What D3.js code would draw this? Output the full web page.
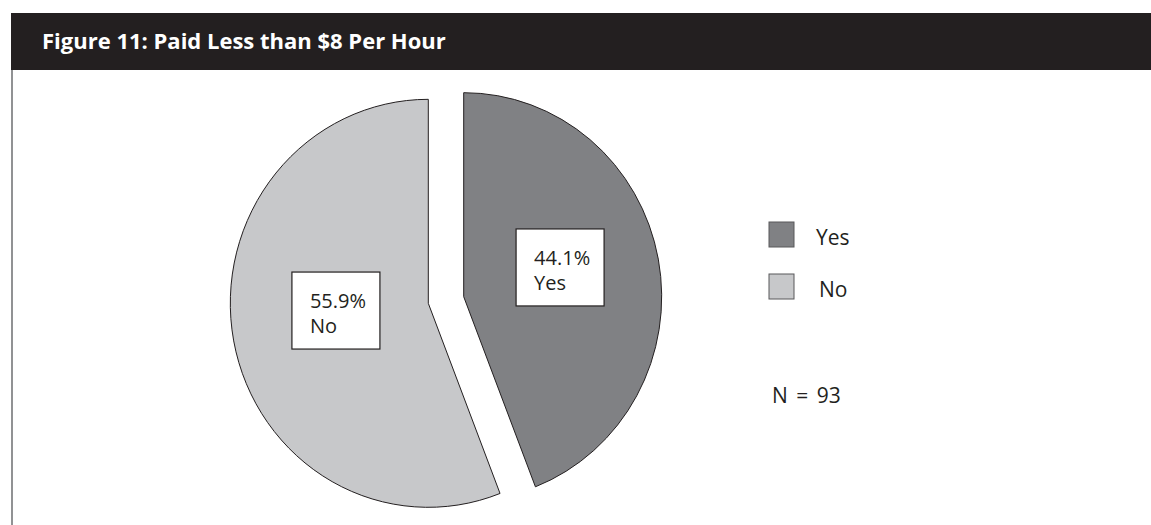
<!DOCTYPE html>
<html>
<head>
<meta charset="utf-8">
<script src="https://cdn.jsdelivr.net/npm/d3@7"></script>
<style>
  html, body { margin: 0; padding: 0; background: #fff; }
  svg { display: block; }
</style>
</head>
<body>
<svg id="chart" width="1151" height="525"></svg>
<script>
// Survey answers: share of workers paid less than $8 per hour
const categories = ["Yes", "No"];
const percents = [44.1, 55.9];
const title = "Figure 11: Paid Less than $8 Per Hour";
const sampleNote = "N = 93";

const W = 1151, H = 525;
const svg = d3.select("#chart");
const fontFamily = "'Open Sans', Lato, sans-serif";

const color = d3.scaleOrdinal()
  .domain(categories)
  .range(["#808184", "#c7c8ca"]);

// Frame: left rule and title bar
svg.append("line")
  .attr("x1", 12).attr("x2", 12)
  .attr("y1", 70).attr("y2", H)
  .attr("stroke", "#6d6e70").attr("stroke-width", 1.5);

svg.append("rect")
  .attr("x", 11).attr("y", 13)
  .attr("width", W - 11).attr("height", 57)
  .attr("fill", "#231f20");

svg.append("text")
  .attr("x", 42).attr("y", 49)
  .attr("fill", "#ffffff")
  .attr("font-family", fontFamily)
  .attr("font-weight", "bold")
  .attr("font-size", 22)
  .text(title);

// Pie
const cx = 446, cy = 300;
const rx = 198, ry = 204;
const explode = 18;

const pie = d3.pie().sort(null).value(d => d.value);
const arcs = pie(categories.map((c, i) => ({ key: c, value: percents[i] })));

const R = 200;
const arc = d3.arc().innerRadius(0).outerRadius(R);
const labelArc = d3.arc().innerRadius(0).outerRadius(R * 0.97);

const slices = svg.append("g")
  .attr("transform", `translate(${cx},${cy})`)
  .selectAll("g.slice")
  .data(arcs)
  .join("g")
  .attr("class", "slice")
  .attr("transform", d => {
    const mid = (d.startAngle + d.endAngle) / 2;
    const dx = Math.sin(mid) * explode, dy = -Math.cos(mid) * explode;
    return `translate(${dx},${dy})`;
  });

slices.append("path")
  .attr("d", arc)
  .attr("transform", `scale(${rx / R},${ry / R})`)
  .attr("fill", d => color(d.data.key))
  .attr("stroke", "#231f20")
  .attr("stroke-width", 1)
  .attr("vector-effect", "non-scaling-stroke");

// Value label boxes, sitting a little above each slice centroid
const boxW = 88, boxH = 77, boxLift = 11;
slices.each(function (d) {
  const g = d3.select(this);
  const [lx, ly] = labelArc.centroid(d);
  const bx = lx * rx / R - boxW / 2 + 2;
  const by = ly * ry / R - boxH / 2 - boxLift;
  g.append("rect")
    .attr("x", bx).attr("y", by)
    .attr("width", boxW).attr("height", boxH)
    .attr("fill", "#ffffff")
    .attr("stroke", "#231f20").attr("stroke-width", 1.2);
  const t = g.append("text")
    .attr("font-family", fontFamily)
    .attr("font-size", 20)
    .attr("fill", "#231f20");
  t.append("tspan").attr("x", bx + 18).attr("y", by + 36)
    .text(d3.format(".1f")(d.data.value) + "%");
  t.append("tspan").attr("x", bx + 18).attr("y", by + 61)
    .text(d.data.key);
});

// Legend
const legend = svg.append("g")
  .selectAll("g")
  .data(categories)
  .join("g")
  .attr("transform", (d, i) => `translate(769,${222 + i * 52})`);

legend.append("rect")
  .attr("width", 25).attr("height", 25)
  .attr("fill", d => color(d))
  .attr("stroke", "#58595b").attr("stroke-width", 1);

legend.append("text")
  .attr("x", (d, i) => i === 0 ? 47 : 50)
  .attr("y", 23)
  .attr("font-family", fontFamily)
  .attr("font-size", 21)
  .attr("fill", "#231f20")
  .text(d => d);

svg.append("text")
  .attr("x", 772).attr("y", 403)
  .attr("font-family", fontFamily)
  .attr("font-size", 21)
  .attr("word-spacing", 3)
  .attr("fill", "#231f20")
  .text(sampleNote);
</script>
</body>
</html>
